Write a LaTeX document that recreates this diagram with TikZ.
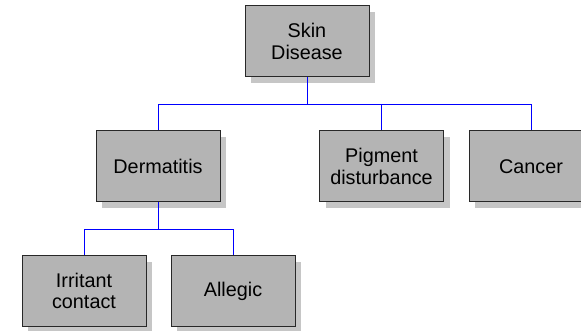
\documentclass[tikz,border=0pt]{standalone}
\usepackage{fontspec}
\setmainfont{Liberation Sans}
\usetikzlibrary{shadows}

\definecolor{boxfill}{RGB}{180,180,180}
\definecolor{boxshade}{RGB}{198,198,198}
\definecolor{boxline}{RGB}{40,40,40}

\tikzset{
  disease/.style={draw=boxline, fill=boxfill, line width=1pt,
    minimum width=124pt, minimum height=71pt, inner sep=0pt,
    align=center, font=\fontsize{19.8}{21.5}\selectfont,
    drop shadow={shadow xshift=6pt, shadow yshift=-6pt, fill=boxshade, opacity=1}},
  link/.style={draw=blue, line width=0.8pt}
}

\begin{document}
\begin{tikzpicture}[x=1pt,y=-1pt]
  \clip (0,0) rectangle (581,331);
  \useasboundingbox (0,0) rectangle (581,331);
  % boxes
  \node[disease] (skin) at (307,41.5) {Skin\\Disease};
  \node[disease] (derm) at (158,166.5) {Dermatitis};
  \node[disease] (pig) at (381.5,166.5) {Pigment\\disturbance};
  \node[disease] (cancer) at (531,166.5) {Cancer};
  \node[disease] (irr) at (84,291) {Irritant\\contact};
  \node[disease] (all) at (233,291) {Allegic};
  % tree lines
  \coordinate (top) at (307,104);
  \coordinate (low) at (158,229);
  \draw[link] (skin.south) -- (top);
  \draw[link] (derm.north) -- (derm.north |- top) -- (cancer.north |- top) -- (cancer.north);
  \draw[link] (pig.north |- top) -- (pig.north);
  \draw[link] (derm.south) -- (low);
  \draw[link] (irr.north) -- (irr.north |- low) -- (all.north |- low) -- (all.north);
\end{tikzpicture}
\end{document}
